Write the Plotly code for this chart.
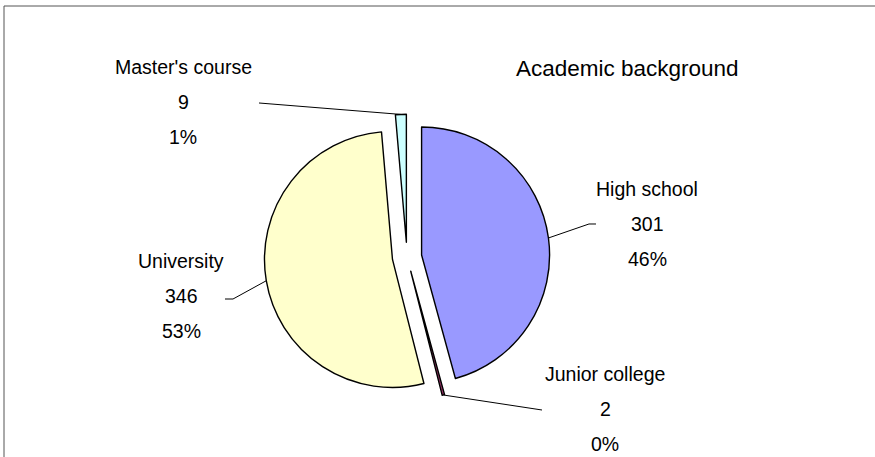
import numpy as np
import plotly.graph_objects as go

W, H = 875, 457

# Survey data: academic background of respondents
categories = ["High school", "Junior college", "University", "Master's course"]
counts = [301, 2, 346, 9]
colors = ["#9999FF", "#993366", "#FFFFCC", "#CCFFFF"]
title_text = "Academic background"

# Pie geometry in pixels (centre of the un-exploded pie, radius, explode fraction)
CX, CY, R = 407, 257, 128
PULL = 0.115

FONT = "Liberation Sans, Arial, sans-serif"
LABEL_SIZE = 19.5
TITLE_SIZE = 22.5
LINE_GAP = 35

# Label block centres (x, y of first line) and leader-line bend points
label_pos = {
    "High school": (647, 189),
    "Junior college": (605, 374),
    "University": (181, 261),
    "Master's course": (183, 67),
}
leader_bends = {
    "High school": [(589, 224), (596, 224)],
    "Junior college": [(542, 410)],
    "University": [(233, 299), (225, 299)],
    "Master's course": [(259, 103)],
}


def px(x):
    return x / W


def py(y):
    return 1 - y / H


total = sum(counts)
pct = [f"{round(100 * v / total)}%" for v in counts]

box = 2 * R * (1 + PULL)
fig = go.Figure(
    go.Pie(
        labels=categories,
        values=counts,
        sort=False,
        direction="clockwise",
        rotation=0,
        pull=[PULL] * len(counts),
        marker=dict(colors=colors, line=dict(color="#000000", width=1.4)),
        textinfo="none",
        hoverinfo="label+value+percent",
        domain=dict(
            x=[(CX - box / 2) / W, (CX + box / 2) / W],
            y=[1 - (CY + box / 2) / H, 1 - (CY - box / 2) / H],
        ),
        showlegend=False,
    )
)

shapes = []
annotations = []

# Leader lines start on the outer arc at each slice's mid-angle
cum = np.cumsum([0] + counts)
for i, cat in enumerate(categories):
    mid = (cum[i] + cum[i + 1]) / 2 / total * 2 * np.pi
    sx = CX + R * (1 + PULL) * np.sin(mid)
    sy = CY - R * (1 + PULL) * np.cos(mid)
    pts = [(sx, sy)] + leader_bends[cat]
    path = "M " + " L ".join(f"{px(x):.5f},{py(y):.5f}" for x, y in pts)
    shapes.append(dict(type="path", path=path, xref="paper", yref="paper",
                       line=dict(color="#000000", width=1), layer="above"))

    lx, ly = label_pos[cat]
    for k, txt in enumerate([cat, str(counts[i]), pct[i]]):
        annotations.append(dict(
            text=txt, x=px(lx), y=py(ly + k * LINE_GAP), xref="paper", yref="paper",
            xanchor="center", yanchor="middle", showarrow=False,
            font=dict(family=FONT, size=LABEL_SIZE, color="#000000"),
        ))

annotations.append(dict(
    text=title_text, x=px(627), y=py(69), xref="paper", yref="paper",
    xanchor="center", yanchor="middle", showarrow=False,
    font=dict(family=FONT, size=TITLE_SIZE, color="#000000"),
))

# Chart-area frame
shapes.append(dict(type="rect", xref="paper", yref="paper",
                   x0=px(4), x1=px(W + 10), y0=py(6), y1=py(H + 10),
                   line=dict(color="#555555", width=1), fillcolor="rgba(0,0,0,0)"))

fig.update_layout(
    width=W, height=H,
    margin=dict(l=0, r=0, t=0, b=0),
    paper_bgcolor="#FFFFFF",
    plot_bgcolor="#FFFFFF",
    shapes=shapes,
    annotations=annotations,
)

fig.write_html("out.html")
